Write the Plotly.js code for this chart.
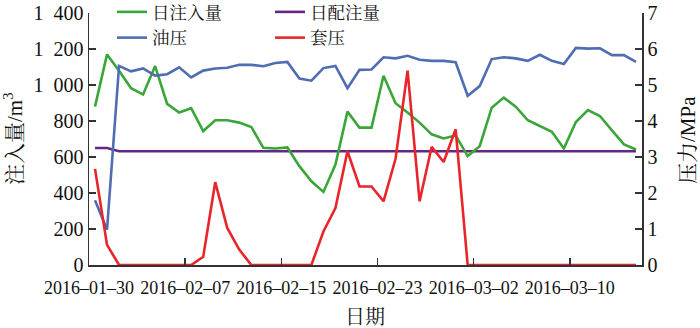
<!DOCTYPE html>
<html><head><meta charset="utf-8">
<script src="https://cdn.plot.ly/plotly-3.0.1.min.js"></script>
<style>html,body{margin:0;padding:0;background:#fff}#chart{width:700px;height:328px}</style>
</head><body><div id="chart"></div>
<script>
const dates = ['2016-01-30','2016-01-31','2016-02-01','2016-02-02','2016-02-03','2016-02-04','2016-02-05','2016-02-06','2016-02-07','2016-02-08',
'2016-02-09','2016-02-10','2016-02-11','2016-02-12','2016-02-13','2016-02-14','2016-02-15','2016-02-16','2016-02-17','2016-02-18',
'2016-02-19','2016-02-20','2016-02-21','2016-02-22','2016-02-23','2016-02-24','2016-02-25','2016-02-26','2016-02-27','2016-02-28',
'2016-02-29','2016-03-01','2016-03-02','2016-03-03','2016-03-04','2016-03-05','2016-03-06','2016-03-07','2016-03-08','2016-03-09',
'2016-03-10','2016-03-11','2016-03-12','2016-03-13','2016-03-14','2016-03-15'];
// 日注入量 (m3)
const injected = [880,1170,1079,982,947,1105,895,847,871,744,804,804,791,767,651,647,653,549,465,406,
558,852,763,763,1051,899,847,791,726,703,720,605,660,874,930,880,804,772,740,647,794,861,828,748,670,642];
// 日配注量 (m3)
const allocated = [650,650,632,632,632,632,632,632,632,632,632,632,632,632,632,632,632,632,632,632,
632,632,632,632,632,632,632,632,632,632,632,632,632,632,632,632,632,632,632,632,632,632,632,632,632,632];
// 油压 (MPa)
const tubingP = [1.80,0.98,5.53,5.38,5.46,5.26,5.30,5.49,5.21,5.40,5.46,5.48,5.56,5.56,5.52,5.61,5.64,5.18,5.12,5.47,
5.53,4.91,5.42,5.43,5.77,5.74,5.81,5.70,5.67,5.67,5.63,4.70,4.97,5.72,5.77,5.74,5.67,5.84,5.67,5.58,6.03,6.01,6.02,5.83,5.83,5.64];
// 套压 (MPa)
const casingP = [2.67,0.56,0,0,0,0,0,0,0,0.23,2.30,1.03,0.43,0,0,0,0,0,0,0.93,
1.58,3.16,2.18,2.18,1.77,2.95,5.40,1.77,3.28,2.86,3.77,0,0,0,0,0,0,0,0,0,0,0,0,0,0,0];

const xTickDates = ['2016-01-30','2016-02-07','2016-02-15','2016-02-23','2016-03-02','2016-03-10'];
const xTickLabels = ['2016–01–30','2016–02–07','2016–02–15','2016–02–23','2016–03–02','2016–03–10'];
const yTickVals = [0,200,400,600,800,1000,1200,1400];
const yTickLabels = ['0','200','400','600','800','1\u2002000','1\u2002200','1\u2002400'];
const y2TickVals = [0,1,2,3,4,5,6,7];

const xs = dates.map(d => d + ' 12:00');
const W = 2.6;
const traces = [
  {x: xs, y: allocated, name: '日配注量', mode: 'lines', line: {color: '#652784', width: W}, legend: 'legend2'},
  {x: xs, y: injected, name: '日注入量', mode: 'lines', line: {color: '#3aa63a', width: W}, legend: 'legend'},
  {x: xs, y: tubingP, name: '油压', mode: 'lines', yaxis: 'y2', line: {color: '#4f6db0', width: W}, legend: 'legend'},
  {x: xs, y: casingP, name: '套压', mode: 'lines', yaxis: 'y2', line: {color: '#e8252a', width: W}, legend: 'legend2'}
];
const axCommon = {showline: true, linecolor: '#333', linewidth: 1.5, ticks: 'inside', ticklen: 7, tickwidth: 1.5,
  tickcolor: '#333', showgrid: false, zeroline: false, fixedrange: true, automargin: false};
const FONT = '"Liberation Serif", "Noto Serif CJK SC", "Noto Sans CJK SC", serif';
// plot area in pixels: left 89, right 642, top 13, bottom 265
const px = v => (v - 89) / 553;
const py = v => (265 - v) / 252;
const layout = {
  width: 700, height: 328,
  margin: {l: 89, r: 58, t: 13, b: 63, pad: 0, autoexpand: false},
  paper_bgcolor: '#fff', plot_bgcolor: '#fff',
  font: {family: FONT, size: 19, color: '#111'},
  showlegend: true,
  xaxis: Object.assign({}, axCommon, {type: 'date', range: ['2016-01-30', '2016-03-16'], tickangle: 0,
    tickvals: xTickDates, ticktext: xTickLabels, tickfont: {size: 18}, ticklabelstandoff: 6}),
  yaxis: Object.assign({}, axCommon, {range: [0, 1400], tickvals: yTickVals, ticktext: yTickLabels,
    tickfont: {size: 20}}),
  yaxis2: Object.assign({}, axCommon, {overlaying: 'y', side: 'right', range: [0, 7], tickvals: y2TickVals,
    tickfont: {size: 20}}),
  annotations: [
    {text: '注入量/m<sup>3</sup>', xref: 'paper', yref: 'paper', x: px(13), y: py(139), textangle: -90,
     showarrow: false, xanchor: 'center', yanchor: 'middle', font: {size: 21}},
    {text: '压力/MPa', xref: 'paper', yref: 'paper', x: px(688), y: py(140), textangle: -90,
     showarrow: false, xanchor: 'center', yanchor: 'middle', font: {size: 21}},
    {text: '日期', xref: 'paper', yref: 'paper', x: px(365), y: py(317),
     showarrow: false, xanchor: 'center', yanchor: 'middle', font: {size: 20}}
  ],
  legend: {xref: 'container', yref: 'paper', x: 112/700, y: py(-6), xanchor: 'left', yanchor: 'top',
    bgcolor: 'rgba(0,0,0,0)', font: {size: 17.5}, tracegroupgap: 0, itemwidth: 30},
  legend2: {xref: 'container', yref: 'paper', x: 270/700, y: py(-6), xanchor: 'left', yanchor: 'top',
    bgcolor: 'rgba(0,0,0,0)', font: {size: 17.5}, tracegroupgap: 0, itemwidth: 30}
};
Plotly.newPlot('chart', traces, layout, {displayModeBar: false, staticPlot: true});
</script></body></html>
